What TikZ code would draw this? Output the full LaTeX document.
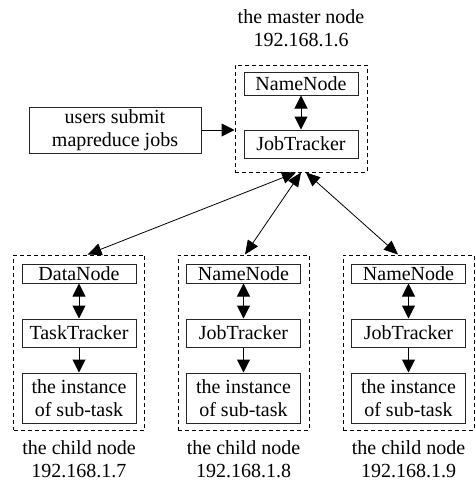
\documentclass[tikz,border=0pt]{standalone}
\usepackage{fontspec}
\setmainfont{Liberation Serif}
\usetikzlibrary{arrows.meta}
\begin{document}
\begin{tikzpicture}[x=1pt,y=-1pt,
  every node/.style={font=\fontsize{20}{23}\selectfont, inner sep=0pt, align=center},
  box/.style={draw=black!85, line width=1pt, minimum width=114pt},
  group/.style={draw, dashed, dash pattern=on 4pt off 3pt, line width=1pt},
  tip/.style={-{Triangle[length=13pt,width=13pt]}, line width=1pt},
  both/.style={{Triangle[length=13pt,width=13pt]}-{Triangle[length=13pt,width=13pt]}, line width=1pt},
  thin both/.style={{Triangle[length=14pt,width=12pt]}-{Triangle[length=14pt,width=12pt]}, line width=0.8pt}]
\useasboundingbox (0,0) rectangle (475,482);

% master node
\node (mt) at (301,28) {the master node\\192.168.1.6};
\node[group, minimum width=132pt, minimum height=107pt] (m) at (301,118.5) {};
\node[box, minimum height=23pt] (mnn) at (301,83.5) {NameNode};
\node[box, minimum height=28pt] (mjt) at (301,144) {JobTracker};
\node[box, minimum width=172pt, minimum height=46pt] (u) at (115,130) {users submit\\mapreduce jobs};
\draw[both] (mnn) -- (mjt);
\draw[tip] (u) -- (m.west |- u.east);

% child nodes
\foreach \i/\cx/\top/\mid/\ip in {1/79/DataNode/TaskTracker/7, 2/243.5/NameNode/JobTracker/8, 3/408.5/NameNode/JobTracker/9}{
  \node[group, minimum width=131pt, minimum height=175pt] (c\i) at (\cx,342.5) {};
  \node[box, minimum height=19pt] (c\i a) at (\cx,273.5) {\top};
  \node[box, minimum height=28pt] (c\i b) at (\cx,333) {\mid};
  \node[box, minimum height=50pt] (c\i c) at (\cx,398) {the instance\\of sub-task};
  \node (c\i t) at (\cx,459.5) {the child node\\192.168.1.\ip};
  \draw[both] (c\i a) -- (c\i b);
  \draw[tip] (c\i b) -- (c\i c);
}

% links between master and children
\draw[thin both] ([xshift=-5pt]m.south) -- ([xshift=8.5pt]c1.north);
\draw[thin both] (m.south) -- ([xshift=1.5pt]c2.north);
\draw[thin both] ([xshift=5pt]m.south) -- ([xshift=-10.5pt]c3.north);
\end{tikzpicture}
\end{document}
